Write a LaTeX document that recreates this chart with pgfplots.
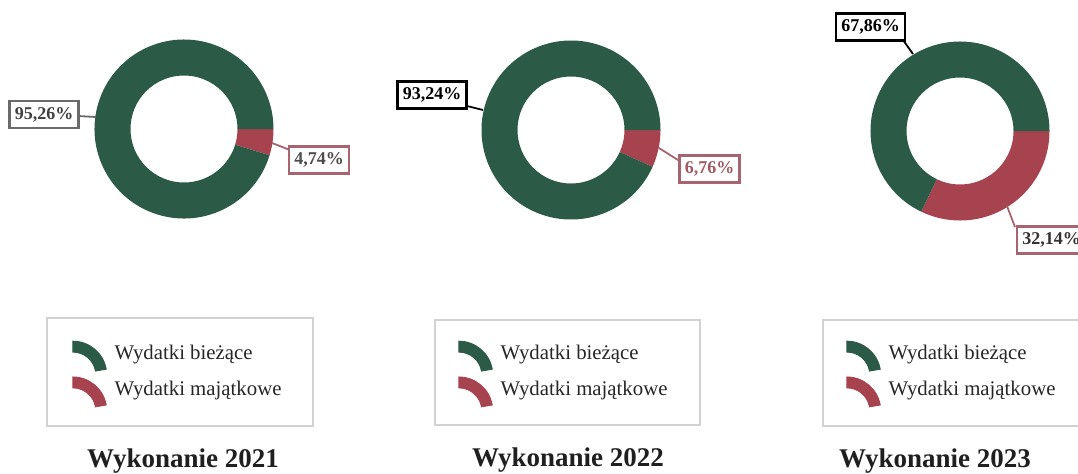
\documentclass[border=0pt]{standalone}
\usepackage{fontspec}
\setmainfont{Liberation Serif}
\usepackage{pgfplots}
\usepackage{pgfplotstable}
\pgfplotsset{compat=1.18}
\definecolor{dgreen}{HTML}{2B5A47}
\definecolor{dred}{HTML}{A7434F}
\definecolor{lblgray}{HTML}{6A6A6A}
\definecolor{lblred}{HTML}{A8646E}
\definecolor{txtred}{HTML}{A05A64}
\definecolor{legbox}{HTML}{D2D2D2}

% shares of expenditure (per cent)
\pgfplotstableread{
year biezace majatkowe
2021 95.26 4.74
2022 93.24 6.76
2023 67.86 32.14
}\shares
\pgfplotstablegetelem{0}{majatkowe}\of\shares \let\vA\pgfplotsretval
\pgfplotstablegetelem{1}{majatkowe}\of\shares \let\vB\pgfplotsretval
\pgfplotstablegetelem{2}{majatkowe}\of\shares \let\vC\pgfplotsretval

\def\Ro{89.5}
\def\Ri{53.5}

% donut: #1 share of second category, #2 cx, #3 cy (pixel units, y down)
\newcommand\donut[3]{%
  \pgfmathsetmacro\ang{-3.6*#1}%
  \fill[dred] (axis cs:{#2+\Ro},{#3}) arc[start angle=0,end angle=\ang,radius=\Ro*0.5pt]
     -- (axis cs:{#2+\Ri*cos(\ang)},{#3-\Ri*sin(\ang)}) arc[start angle=\ang,end angle=0,radius=\Ri*0.5pt] -- cycle;
  \fill[dgreen] (axis cs:{#2+\Ro*cos(\ang)},{#3-\Ro*sin(\ang)}) arc[start angle=\ang,end angle=-360,radius=\Ro*0.5pt]
     -- (axis cs:{#2+\Ri},{#3}) arc[start angle=0,end angle=\ang+360,radius=\Ri*0.5pt] -- cycle;
}
\newcommand\legicon[1]{\fill[#1] (0pt,-10pt) ++(90:17pt) arc[start angle=90,end angle=10,radius=17pt] -- ++(190:5.5pt) arc[start angle=10,end angle=90,radius=11.5pt] -- cycle;}

\tikzset{
  pct/.style={draw, line width=1.1pt, fill=white, inner xsep=2.6pt, inner ysep=0pt,
    minimum height=13.5pt, font=\bfseries\fontsize{9}{10}\selectfont},
  ttl/.style={font=\bfseries\fontsize{13.5}{16}\selectfont, text=black!88, anchor=base},
}
\pgfplotsset{
  donutaxis/.style={
    at={(0pt,0pt)}, anchor=south west, x=0.5pt, y=0.5pt,
    xmin=0, xmax=1078, ymin=0, ymax=473, y dir=reverse,
    hide axis, clip=false,
    legend cell align=left,
    legend style={draw=none, fill=none, inner sep=0pt, row sep=0.5pt,
      font=\fontsize{10.4}{12}\selectfont, text=black!85,
      nodes={inner sep=0pt, text height=7pt, text depth=2.5pt},
      column sep=4pt, anchor=west},
  },
}

\begin{document}
\begin{tikzpicture}
\path[use as bounding box] (0pt,0pt) rectangle (539pt,236.5pt);
\clip (0pt,0pt) rectangle (539pt,236.5pt);

% ---------- 2021 ----------
\begin{axis}[donutaxis, legend style={at={(axis cs:72,376)}}]
\donut{\vA}{184}{129}
\addlegendimage{legend image code/.code={\legicon{dgreen}}}
\addlegendentry{Wydatki bieżące}
\addlegendimage{legend image code/.code={\legicon{dred}}}
\addlegendentry{Wydatki majątkowe}
\draw[lblgray, line width=0.9pt] (axis cs:78,116) -- (axis cs:96,117);
\node[pct, draw=lblgray, text=black!75] at (axis cs:44,114.5) {95,26\%};
\draw[lblred, line width=0.9pt] (axis cs:272,143) -- (axis cs:290,150);
\node[pct, draw=lblred, text=black!70] at (axis cs:319,160) {4,74\%};
\draw[legbox, line width=0.75pt] (axis cs:47,318) rectangle (axis cs:313,426);
\node[ttl] at (axis cs:183,467) {Wykonanie 2021};
\end{axis}

% ---------- 2022 ----------
\begin{axis}[donutaxis, legend style={at={(axis cs:458,376)}}]
\donut{\vB}{571}{130}
\addlegendimage{legend image code/.code={\legicon{dgreen}}}
\addlegendentry{Wydatki bieżące}
\addlegendimage{legend image code/.code={\legicon{dred}}}
\addlegendentry{Wydatki majątkowe}
\draw[black, line width=0.9pt] (axis cs:467,106) -- (axis cs:483,110);
\node[pct, draw=black, text=black] at (axis cs:432,95) {93,24\%};
\draw[lblred, line width=0.9pt] (axis cs:659,148) -- (axis cs:678,160);
\node[pct, draw=lblred, text=txtred] at (axis cs:709.5,169) {6,76\%};
\draw[legbox, line width=0.75pt] (axis cs:435,320) rectangle (axis cs:700,425);
\node[ttl] at (axis cs:568,466) {Wykonanie 2022};
\end{axis}

% ---------- 2023 ----------
\begin{axis}[donutaxis, legend style={at={(axis cs:846,376)}}]
\donut{\vC}{960}{131}
\addlegendimage{legend image code/.code={\legicon{dgreen}}}
\addlegendentry{Wydatki bieżące}
\addlegendimage{legend image code/.code={\legicon{dred}}}
\addlegendentry{Wydatki majątkowe}
\draw[black, line width=0.9pt] (axis cs:903,40) -- (axis cs:913,54);
\node[pct, draw=black, text=black] at (axis cs:870.5,27) {67,86\%};
\draw[lblred, line width=0.9pt] (axis cs:1007,206) -- (axis cs:1015,227);
\node[pct, draw=lblred, text=black!80, anchor=west] at (axis cs:1016,240) {32,14\%};
\draw[legbox, line width=0.75pt] (axis cs:823,320) rectangle (axis cs:1090,426);
\node[ttl] at (axis cs:935,467) {Wykonanie 2023};
\end{axis}
\end{tikzpicture}
\end{document}
